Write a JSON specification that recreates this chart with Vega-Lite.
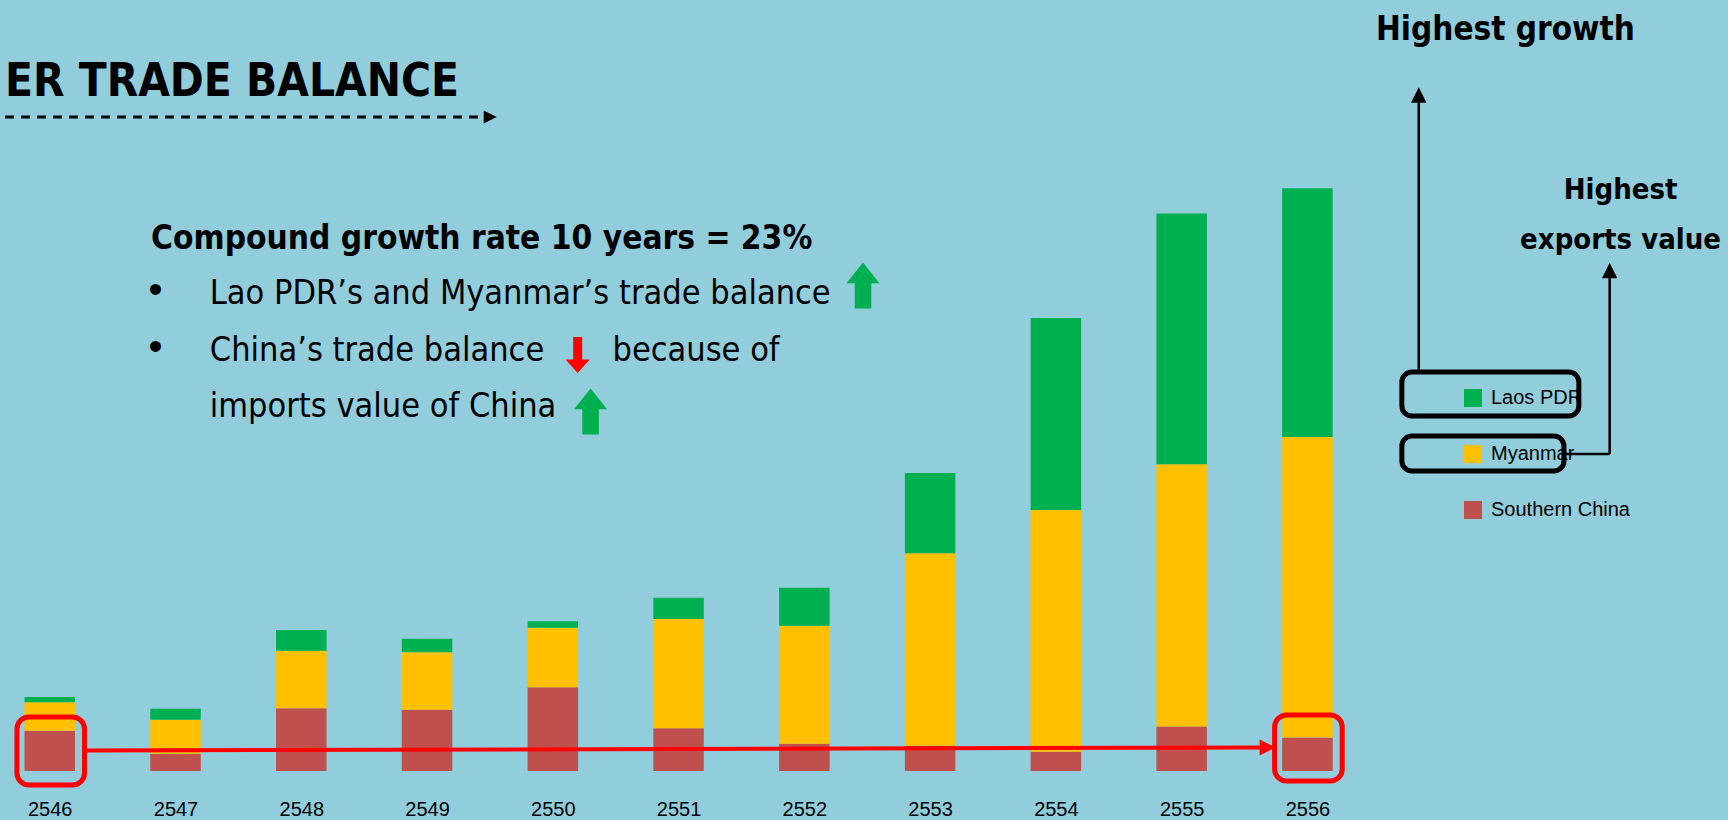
{
  "$schema": "https://vega.github.io/schema/vega-lite/v6.json",
  "width": 1728,
  "height": 771,
  "autosize": {"type": "none"},
  "padding": {"left": 0, "top": 0, "right": 0, "bottom": 49},
  "background": "#92CDDC",
  "config": {
    "view": {"stroke": null},
    "axis": {"labelFont": "Liberation Sans", "labelFontSize": 20, "labelColor": "#000000", "ticks": false, "domain": false, "grid": false, "labelPadding": 28, "title": null, "labelFlush": false},
    "legend": {"orient": "none", "legendX": 1463, "legendY": 388, "symbolType": "square", "symbolSize": 324, "symbolStrokeWidth": 0, "labelFont": "Liberation Sans", "labelFontSize": 20, "labelColor": "#000000", "rowPadding": 36, "labelOffset": 8, "padding": 0}
  },
  "layer": [
    {
      "data": {"values": [
        {"Year": 2546, "Country": "Southern China", "Value": 4.03}, {"Year": 2546, "Country": "Myanmar", "Value": 2.84}, {"Year": 2546, "Country": "Laos PDR", "Value": 0.53},
        {"Year": 2547, "Country": "Southern China", "Value": 1.73}, {"Year": 2547, "Country": "Myanmar", "Value": 3.40}, {"Year": 2547, "Country": "Laos PDR", "Value": 1.10},
        {"Year": 2548, "Country": "Southern China", "Value": 6.27}, {"Year": 2548, "Country": "Myanmar", "Value": 5.76}, {"Year": 2548, "Country": "Laos PDR", "Value": 2.07},
        {"Year": 2549, "Country": "Southern China", "Value": 6.13}, {"Year": 2549, "Country": "Myanmar", "Value": 5.74}, {"Year": 2549, "Country": "Laos PDR", "Value": 1.36},
        {"Year": 2550, "Country": "Southern China", "Value": 8.37}, {"Year": 2550, "Country": "Myanmar", "Value": 5.96}, {"Year": 2550, "Country": "Laos PDR", "Value": 0.64},
        {"Year": 2551, "Country": "Southern China", "Value": 4.27}, {"Year": 2551, "Country": "Myanmar", "Value": 10.93}, {"Year": 2551, "Country": "Laos PDR", "Value": 2.13},
        {"Year": 2552, "Country": "Southern China", "Value": 2.73}, {"Year": 2552, "Country": "Myanmar", "Value": 11.80}, {"Year": 2552, "Country": "Laos PDR", "Value": 3.80},
        {"Year": 2553, "Country": "Southern China", "Value": 2.53}, {"Year": 2553, "Country": "Myanmar", "Value": 19.24}, {"Year": 2553, "Country": "Laos PDR", "Value": 8.03},
        {"Year": 2554, "Country": "Southern China", "Value": 1.93}, {"Year": 2554, "Country": "Myanmar", "Value": 24.17}, {"Year": 2554, "Country": "Laos PDR", "Value": 19.20},
        {"Year": 2555, "Country": "Southern China", "Value": 4.45}, {"Year": 2555, "Country": "Myanmar", "Value": 26.22}, {"Year": 2555, "Country": "Laos PDR", "Value": 25.08},
        {"Year": 2556, "Country": "Southern China", "Value": 3.35}, {"Year": 2556, "Country": "Myanmar", "Value": 30.05}, {"Year": 2556, "Country": "Laos PDR", "Value": 24.88}
      ]},
      "mark": {"type": "bar", "width": 50.5},
      "encoding": {
        "x": {"field": "Year", "type": "quantitative", "scale": {"domain": [2545.6443, 2559.3044], "nice": false, "zero": false}, "axis": {"values": [2546, 2547, 2548, 2549, 2550, 2551, 2552, 2553, 2554, 2555, 2556], "format": "d", "title": null}},
        "y": {"field": "Value", "type": "quantitative", "stack": "zero", "scale": {"domain": [0, 77.1], "nice": false, "zero": true}, "axis": null},
        "color": {"field": "Country", "type": "nominal", "scale": {"domain": ["Laos PDR", "Myanmar", "Southern China"], "range": ["#00B050", "#FFC000", "#C0504D"]}, "legend": {"title": null}},
        "order": {"field": "Country", "sort": "descending"}
      }
    },
    {
      "data": {"values": [
        {"x": 2545.7392, "x2": 2546.2767, "y": 5.4, "y2": -1.4},
        {"x": 2555.7392, "x2": 2556.2767, "y": 5.6, "y2": -1.0}
      ]},
      "mark": {"type": "rect", "fillOpacity": 0, "stroke": "#FF0000", "strokeWidth": 5, "cornerRadius": 12},
      "encoding": {
        "x": {"field": "x", "type": "quantitative"}, "x2": {"field": "x2"},
        "y": {"field": "y", "type": "quantitative"}, "y2": {"field": "y2"}
      }
    },
    {
      "data": {"values": [{"x": 2546.2767, "x2": 2555.6220, "y": 2.05, "y2": 2.35}]},
      "mark": {"type": "rule", "stroke": "#FF0000", "strokeWidth": 4},
      "encoding": {
        "x": {"field": "x", "type": "quantitative"}, "x2": {"field": "x2"},
        "y": {"field": "y", "type": "quantitative"}, "y2": {"field": "y2"}
      }
    },
    {
      "data": {"values": [{"x": 2555.6838, "y": 2.35}]},
      "mark": {"type": "point", "shape": "M -1 -1 L 1 0 L -1 1 Z", "filled": true, "size": 256, "color": "#FF0000", "opacity": 1},
      "encoding": {"x": {"field": "x", "type": "quantitative"}, "y": {"field": "y", "type": "quantitative"}}
    },
    {
      "data": {"values": [
        {"x": 2556.7510, "x2": 2558.1581, "y": 39.9, "y2": 35.5},
        {"x": 2556.7510, "x2": 2558.0396, "y": 33.5, "y2": 30.0}
      ]},
      "mark": {"type": "rect", "fillOpacity": 0, "stroke": "#000000", "strokeWidth": 5, "cornerRadius": 10},
      "encoding": {
        "x": {"field": "x", "type": "quantitative"}, "x2": {"field": "x2"},
        "y": {"field": "y", "type": "quantitative"}, "y2": {"field": "y2"}
      }
    },
    {
      "data": {"values": [
        {"x": 2556.8854, "x2": 2556.8854, "y": 40.0, "y2": 67.1},
        {"x": 2558.0396, "x2": 2558.4032, "y": 31.7, "y2": 31.7},
        {"x": 2558.4032, "x2": 2558.4032, "y": 31.7, "y2": 49.3}
      ]},
      "mark": {"type": "rule", "stroke": "#000000", "strokeWidth": 2.5},
      "encoding": {
        "x": {"field": "x", "type": "quantitative"}, "x2": {"field": "x2"},
        "y": {"field": "y", "type": "quantitative"}, "y2": {"field": "y2"}
      }
    },
    {
      "data": {"values": [{"x": 2556.8854, "y": 67.6}, {"x": 2558.4032, "y": 50.05}]},
      "mark": {"type": "point", "shape": "M 0 -1 L 1 1 L -1 1 Z", "filled": true, "size": 240, "color": "#000000", "opacity": 1},
      "encoding": {"x": {"field": "x", "type": "quantitative"}, "y": {"field": "y", "type": "quantitative"}}
    },
    {
      "data": {"values": [{"x": 2545.6443, "x2": 2549.4704, "y": 65.4}]},
      "mark": {"type": "rule", "stroke": "#000000", "strokeWidth": 3, "strokeDash": [9, 7]},
      "encoding": {
        "x": {"field": "x", "type": "quantitative"}, "x2": {"field": "x2"},
        "y": {"field": "y", "type": "quantitative"}
      }
    },
    {
      "data": {"values": [{"x": 2549.502, "y": 65.4}]},
      "mark": {"type": "point", "shape": "M -1 -1 L 1 0 L -1 1 Z", "filled": true, "size": 169, "color": "#000000", "opacity": 1},
      "encoding": {"x": {"field": "x", "type": "quantitative"}, "y": {"field": "y", "type": "quantitative"}}
    },
    {
      "data": {"values": [{"x": 2545.6443, "y": 67.5, "label": "ER TRADE BALANCE"}]},
      "mark": {"type": "text", "align": "left", "baseline": "alphabetic", "font": "DejaVu Sans Condensed", "fontWeight": "bold", "fontSize": 45.5, "color": "#000000"},
      "encoding": {"x": {"field": "x", "type": "quantitative"}, "y": {"field": "y", "type": "quantitative"}, "text": {"field": "label"}}
    },
    {
      "data": {"values": [{"x": 2546.806, "y": 52.2, "label": "Compound growth rate 10 years = 23%"}]},
      "mark": {"type": "text", "align": "left", "baseline": "alphabetic", "font": "DejaVu Sans Condensed", "fontWeight": "bold", "fontSize": 33.2, "color": "#000000"},
      "encoding": {"x": {"field": "x", "type": "quantitative"}, "y": {"field": "y", "type": "quantitative"}, "text": {"field": "label"}}
    },
    {
      "data": {"values": [
        {"x": 2547.2727, "y": 46.72, "label": "Lao PDR’s and Myanmar’s trade balance"},
        {"x": 2547.2727, "y": 41.05, "label": "China’s trade balance"},
        {"x": 2550.4743, "y": 41.05, "label": "because of"},
        {"x": 2547.2727, "y": 35.42, "label": "imports value of China"}
      ]},
      "mark": {"type": "text", "align": "left", "baseline": "alphabetic", "font": "DejaVu Sans Condensed", "fontSize": 34, "color": "#000000"},
      "encoding": {"x": {"field": "x", "type": "quantitative"}, "y": {"field": "y", "type": "quantitative"}, "text": {"field": "label"}}
    },
    {
      "data": {"values": [{"x": 2546.785, "y": 46.8, "label": "•"}, {"x": 2546.785, "y": 41.13, "label": "•"}]},
      "mark": {"type": "text", "align": "left", "baseline": "alphabetic", "font": "Liberation Sans", "fontSize": 40, "color": "#000000"},
      "encoding": {"x": {"field": "x", "type": "quantitative"}, "y": {"field": "y", "type": "quantitative"}, "text": {"field": "label"}}
    },
    {
      "data": {"values": [{"x": 2552.4665, "y": 48.55}, {"x": 2550.3004, "y": 35.95}]},
      "mark": {"type": "point", "shape": "M 0 -1 L 0.72 -0.1 L 0.36 -0.1 L 0.36 1 L -0.36 1 L -0.36 -0.1 L -0.72 -0.1 Z", "filled": true, "size": 2116, "color": "#00B050", "opacity": 1},
      "encoding": {"x": {"field": "x", "type": "quantitative"}, "y": {"field": "y", "type": "quantitative"}}
    },
    {
      "data": {"values": [{"x": 2550.1977, "y": 41.6}]},
      "mark": {"type": "point", "shape": "M 0 1 L 0.67 0.25 L 0.25 0.25 L 0.25 -1 L -0.25 -1 L -0.25 0.25 L -0.67 0.25 Z", "filled": true, "size": 1296, "color": "#FF0000", "opacity": 1},
      "encoding": {"x": {"field": "x", "type": "quantitative"}, "y": {"field": "y", "type": "quantitative"}}
    },
    {
      "data": {"values": [{"x": 2556.5455, "y": 73.1, "label": "Highest growth"}]},
      "mark": {"type": "text", "align": "left", "baseline": "alphabetic", "font": "DejaVu Sans Condensed", "fontWeight": "bold", "fontSize": 33, "color": "#000000"},
      "encoding": {"x": {"field": "x", "type": "quantitative"}, "y": {"field": "y", "type": "quantitative"}, "text": {"field": "label"}}
    },
    {
      "data": {"values": [{"x": 2558.49, "y": 57.2, "label": "Highest"}, {"x": 2558.49, "y": 52.2, "label": "exports value"}]},
      "mark": {"type": "text", "align": "center", "baseline": "alphabetic", "font": "DejaVu Sans Condensed", "fontWeight": "bold", "fontSize": 29, "color": "#000000"},
      "encoding": {"x": {"field": "x", "type": "quantitative"}, "y": {"field": "y", "type": "quantitative"}, "text": {"field": "label"}}
    }
  ]
}
